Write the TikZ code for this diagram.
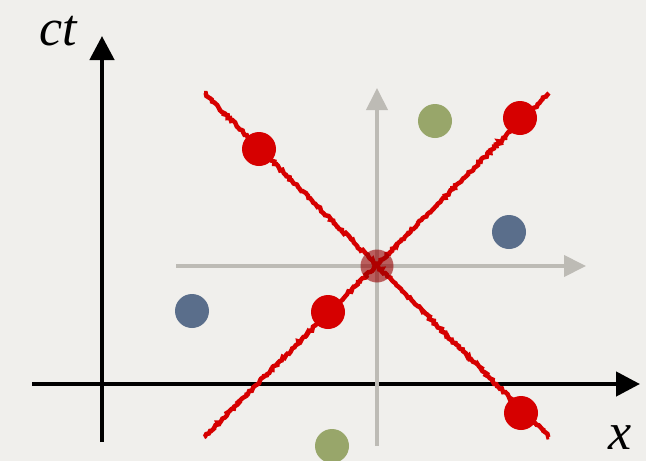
\documentclass[tikz,border=0pt]{standalone}
\usepackage{fontspec}
\setmainfont{Liberation Serif}
\usepackage{tikz}
\usetikzlibrary{arrows.meta,decorations.pathmorphing}
\definecolor{paper}{RGB}{240,239,236}
\definecolor{eventred}{RGB}{214,0,0}
\definecolor{eventgreen}{RGB}{152,166,106}
\definecolor{eventblue}{RGB}{90,110,139}
\definecolor{frameggrey}{RGB}{189,187,181}
\tikzset{
  axis/.style={-{Triangle[length=24pt,width=24pt]}, line width=4.5pt, black},
  primeaxis/.style={-{Triangle[length=22pt,width=21pt]}, line width=4pt, frameggrey},
  lightcone/.style={
    line width=4.5pt,
    eventred,
    decorate,
    decoration={random steps, segment length=2pt, amplitude=1.2pt}
  },
  event/.style={
    circle,
    minimum size=34pt,
    inner sep=0pt
  },
  redevent/.style={event, fill=eventred},
  greenevent/.style={event, fill=eventgreen},
  blueevent/.style={event, fill=eventblue},
  hereevent/.style={event, minimum size=33pt, fill=eventred!70!black, fill opacity=0.6},
  axislabel/.style={font=\fontsize{52}{56}\selectfont\itshape, inner sep=0pt}
}

\begin{document}
\begin{tikzpicture}[x=1pt,y=-1pt]
  \fill[paper] (0,0) rectangle (646,461);
  \useasboundingbox (0,0) rectangle (646,461);

  % black axes
  \coordinate (tlow) at (102,442);
  \coordinate (ttop) at (102,36);
  \coordinate (xlow) at (32,384);
  \coordinate (xtop) at (640,384);
  \draw[axis] (tlow) -- (ttop);
  \draw[axis] (xlow) -- (xtop);
  \node[axislabel] (ctlab) at (58,31) {ct};
  \node[axislabel] (xlab) at (620,438) {x};

  % grey axes of the moving frame
  \coordinate (plow) at (377,446);
  \coordinate (ptop) at (377,88);
  \coordinate (qlow) at (176,266);
  \coordinate (qtop) at (586,266);
  \draw[primeaxis] (plow) -- (ptop);
  \draw[primeaxis] (qlow) -- (qtop);

  % light lines
  \coordinate (la) at (204,93);
  \coordinate (lb) at (549,437);
  \coordinate (lc) at (204,437);
  \coordinate (ld) at (549,93);
  \draw[lightcone] (la) -- (lb);
  \draw[lightcone] (lc) -- (ld);

  % events
  \node[redevent] (r1) at (259,149) {};
  \node[redevent] (r2) at (520,118) {};
  \node[redevent] (r3) at (328,312) {};
  \node[redevent] (r4) at (521,413) {};
  \node[greenevent] (g1) at (435,121) {};
  \node[greenevent] (g2) at (332,446) {};
  \node[blueevent] (b1) at (509,232) {};
  \node[blueevent] (b2) at (192,311) {};
  \node[hereevent] (here) at (377,266) {};
\end{tikzpicture}
\end{document}
